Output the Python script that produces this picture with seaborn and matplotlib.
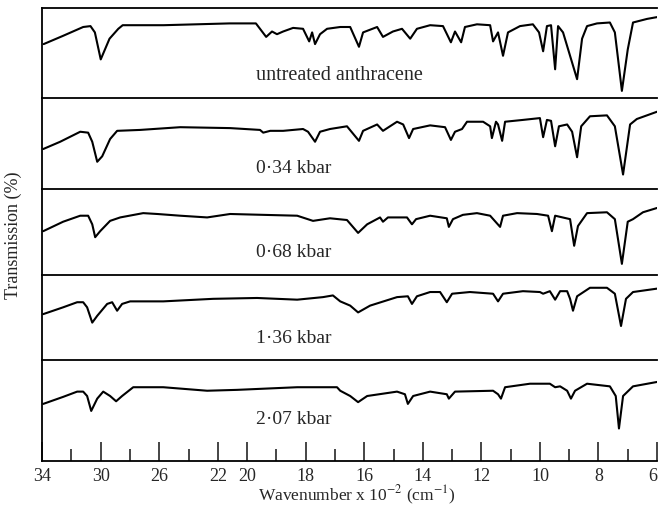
import numpy as np
import pandas as pd
import seaborn as sns
import matplotlib.pyplot as plt

# wavenumber (x 10^2 cm^-1) and transmission (% of panel height)
wn_untreated = [33.9, 32.6, 31.2, 30.7, 30.4, 30.0, 29.4, 28.8, 28.5, 25.7,
                21.2, 19.7, 19.35, 19.15, 18.98, 18.77, 18.43, 18.09, 17.88, 17.78,
                17.68, 17.51, 17.27, 16.82, 16.48, 16.18, 16.04, 15.56, 15.36, 15.02,
                14.71, 14.43, 14.20, 13.75, 13.31, 13.04, 12.90, 12.69, 12.56, 12.15,
                11.70, 11.60, 11.43, 11.26, 11.09, 10.68, 10.24, 10.03, 9.89, 9.76,
                9.62, 9.48, 9.38, 9.21, 8.73, 8.56, 8.39, 8.05, 7.61, 7.44,
                7.20, 7.00, 6.82, 6.34, 6.0]
t_untreated = [60, 69, 79, 80, 73, 43, 66, 77, 81, 81,
               83, 83, 68, 74, 71, 74, 78, 77, 63, 73,
               60, 71, 77, 79, 79, 57, 73, 79, 68, 74,
               77, 66, 77, 81, 80, 62, 74, 62, 79, 82,
               81, 63, 73, 47, 73, 80, 82, 73, 52, 80,
               81, 32, 80, 73, 21, 66, 80, 83, 84, 73,
               8, 54, 84, 88, 90]

wn_034 = [33.93, 32.77, 31.40, 30.86, 30.58, 30.24, 29.90, 29.36, 28.88, 27.31,
          24.57, 21.16, 19.56, 19.45, 19.21, 18.77, 18.09, 17.92, 17.68, 17.51,
          17.17, 16.59, 16.18, 16.04, 15.56, 15.36, 14.88, 14.67, 14.47, 14.33,
          13.75, 13.24, 13.04, 12.90, 12.66, 12.49, 11.94, 11.70, 11.64, 11.50,
          11.43, 11.29, 11.19, 10.58, 10.0, 9.89, 9.76, 9.62, 9.48, 9.35,
          9.07, 8.90, 8.73, 8.59, 8.29, 7.71, 7.44, 7.16, 6.92, 6.69,
          6.0]
t_034 = [44, 52, 63, 62, 52, 30, 36, 55, 64, 65,
         68, 67, 65, 62, 64, 64, 66, 63, 52, 63,
         66, 69, 53, 64, 71, 64, 74, 71, 56, 66,
         70, 68, 54, 63, 66, 74, 74, 69, 56, 74,
         71, 53, 74, 76, 78, 57, 76, 75, 47, 69,
         71, 63, 35, 69, 80, 81, 69, 16, 71, 77,
         85]

wn_068 = [33.93, 32.57, 31.40, 30.86, 30.58, 30.38, 30.04, 29.36, 28.67, 27.10,
          26.14, 24.57, 22.73, 21.16, 19.45, 18.29, 17.75, 17.17, 16.59, 16.21,
          15.90, 15.46, 15.36, 15.19, 14.54, 14.37, 14.23, 13.75, 13.18, 13.11,
          12.97, 12.63, 12.15, 11.70, 11.36, 11.26, 10.78, 10.10, 9.72, 9.59,
          9.48, 8.97, 8.83, 8.70, 8.39, 7.71, 7.44, 7.20, 7.00, 6.82,
          6.48, 6.0]
t_068 = [51, 62, 69, 69, 59, 44, 51, 63, 67, 72,
         71, 69, 67, 71, 70, 69, 63, 66, 64, 49,
         59, 67, 62, 67, 67, 59, 65, 69, 66, 56,
         65, 70, 72, 69, 56, 69, 72, 71, 69, 51,
         69, 65, 34, 57, 72, 73, 65, 13, 62, 65,
         73, 78]

wn_136 = [33.93, 32.57, 31.61, 31.20, 30.93, 30.58, 30.24, 29.56, 29.22, 28.88,
          28.54, 27.99, 25.73, 22.32, 19.66, 18.29, 17.41, 17.07, 16.82, 16.48,
          16.21, 15.80, 14.88, 14.51, 14.37, 14.20, 13.75, 13.41, 13.18, 13.00,
          12.39, 11.60, 11.43, 11.26, 10.58, 10.0, 9.89, 9.66, 9.48, 9.31,
          9.07, 8.97, 8.87, 8.73, 8.29, 7.71, 7.44, 7.23, 7.06, 6.82,
          6.0]
t_136 = [54, 62, 68, 68, 62, 44, 52, 66, 68, 58,
         66, 69, 69, 72, 73, 71, 74, 76, 69, 64,
         56, 64, 74, 75, 66, 75, 80, 80, 68, 78,
         80, 78, 69, 78, 81, 80, 78, 81, 71, 81,
         81, 72, 58, 75, 85, 85, 78, 40, 72, 80,
         84]

wn_207 = [33.93, 32.57, 31.61, 31.20, 30.93, 30.65, 30.24, 29.83, 29.36, 28.95,
          28.54, 27.78, 25.73, 22.73, 20.68, 18.29, 16.93, 16.82, 16.48, 16.21,
          15.90, 14.88, 14.61, 14.51, 14.33, 13.75, 13.18, 13.11, 12.90, 11.60,
          11.43, 11.33, 11.19, 10.34, 9.66, 9.48, 9.31, 9.07, 8.94, 8.80,
          8.39, 7.61, 7.41, 7.30, 7.16, 6.82, 6.0]
t_207 = [50, 58, 64, 64, 59, 42, 56, 64, 59, 53,
         59, 69, 69, 65, 66, 69, 69, 65, 59, 52,
         59, 64, 61, 50, 59, 64, 61, 56, 64, 65,
         61, 56, 69, 73, 73, 69, 70, 65, 56, 65,
         73, 70, 59, 22, 59, 70, 75]

labels = ["untreated anthracene", "0·34 kbar", "0·68 kbar", "1·36 kbar", "2·07 kbar"]
major_ticks = [34, 30, 26, 22, 20, 18, 16, 14, 12, 10, 8, 6]
minor_ticks = [32, 28, 24, 19, 17, 15, 13, 11, 9, 7]

spectra = [(wn_untreated, t_untreated), (wn_034, t_034), (wn_068, t_068),
           (wn_136, t_136), (wn_207, t_207)]


# chart paper: scale halves above 2000 cm-1
def fwd(x):
    x = np.asarray(x, dtype=float)
    return np.where(x >= 20, 14 + (x - 20) / 2, x - 6)


def inv(v):
    v = np.asarray(v, dtype=float)
    return np.where(v >= 14, 20 + 2 * (v - 14), v + 6)


sns.set_theme(style="white")
plt.rcParams["font.family"] = ["Liberation Serif", "DejaVu Serif"]
plt.rcParams["mathtext.fontset"] = "stix"
plt.rcParams["axes.edgecolor"] = "black"

fig, axes = plt.subplots(5, 1, figsize=(6.59, 5.06), dpi=100, sharex=True,
                         gridspec_kw={"height_ratios": [90, 91, 86, 85, 101], "hspace": 0})
fig.subplots_adjust(left=0.064, right=0.997, top=0.982, bottom=0.087)

label_y = [0.26, 0.24, 0.27, 0.26, 0.42]

for i, ax in enumerate(axes):
    df = pd.DataFrame({"wn": spectra[i][0], "T": spectra[i][1]})
    sns.lineplot(data=df, x="wn", y="T", ax=ax, color="black", linewidth=1.5, estimator=None)
    ax.set_xscale("function", functions=(fwd, inv))
    ax.set_xlim(34, 6)
    if i == 4:
        ax.set_ylim(-15, 100)
    else:
        ax.set_ylim(0, 100)
    ax.set_yticks([])
    ax.set_xlabel("")
    ax.set_ylabel("")
    ax.spines["right"].set_visible(False)
    ax.spines["bottom"].set_visible(i == 4)
    for s in ["top", "left", "bottom"]:
        ax.spines[s].set_linewidth(1.3)
    ax.text(19.7, label_y[i], labels[i], transform=ax.get_xaxis_transform(),
            ha="left", va="center", fontsize=14.5 if i == 0 else 14)
    if i < 4:
        ax.tick_params(axis="x", which="both", bottom=False, labelbottom=False)

ax = axes[-1]
ax.set_xticks(major_ticks, labels=[str(t) for t in major_ticks])
ax.set_xticks(minor_ticks, minor=True)
ax.tick_params(axis="x", which="major", direction="in", length=14, width=1.2,
               labelsize=13, pad=4, bottom=True)
ax.tick_params(axis="x", which="minor", direction="in", length=8.5, width=1.2, bottom=True)
ax.get_xticklabels()[-1].set_horizontalalignment("right")
ax.get_xticklabels()[-1].set_x(6)

fig.text(0.542, 0.021, r"Wavenumber x 10$^{-2}$ (cm$^{-1}$)", ha="center", va="center", fontsize=12.5)
fig.text(0.021, 0.536, "Transmission (%)", rotation=90, ha="center", va="center", fontsize=13)

plt.savefig("out.png", dpi=100)
